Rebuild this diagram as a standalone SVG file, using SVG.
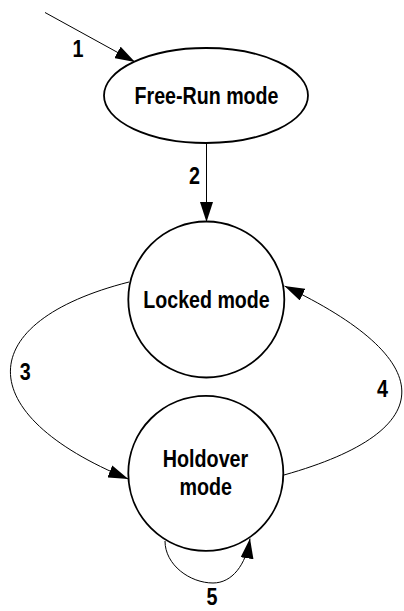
<svg xmlns="http://www.w3.org/2000/svg" width="404" height="611" viewBox="0 0 404 611">
  <style>
    .node { fill: #ffffff; stroke: #000000; stroke-width: 1.8; }
    .edge { fill: none; stroke: #000000; stroke-width: 1; marker-end: url(#arrow); }
    .label { font-family: "Liberation Sans Narrow", "Liberation Sans", Arial, sans-serif; font-weight: bold; font-size: 24px; fill: #000000; text-anchor: middle; }
  </style>
  <defs>
    <marker id="arrow" markerUnits="userSpaceOnUse" markerWidth="20" markerHeight="13" refX="20" refY="6.5" orient="auto" viewBox="0 0 20 13">
      <path d="M0,0 L20,6.5 L0,13 z" fill="#000000"/>
    </marker>
  </defs>

  <g id="connectors">
    <path id="e1" class="edge" d="M45,12.5 L135,62"/>
    <path id="e2" class="edge" d="M206.5,143.5 L206.5,222"/>
    <path id="e3" class="edge" d="M129,282 C-28,322 -30,414 128.3,479"/>
    <path id="e4" class="edge" d="M284,475 C444,430 438,359 284.5,286"/>
    <path id="e5" class="edge" d="M165,541 C165,565 190,583 213,583 C232,583 246,565 250,538.5"/>
    <text class="label" x="78" y="57" textLength="11" lengthAdjust="spacingAndGlyphs">1</text>
    <text class="label" x="194.5" y="184" textLength="11" lengthAdjust="spacingAndGlyphs">2</text>
    <text class="label" x="25.3" y="380" textLength="11" lengthAdjust="spacingAndGlyphs">3</text>
    <text class="label" x="382.5" y="397" textLength="11" lengthAdjust="spacingAndGlyphs">4</text>
    <text class="label" x="212" y="605" textLength="11" lengthAdjust="spacingAndGlyphs">5</text>
  </g>

  <g id="free-run">
    <ellipse class="node" cx="206" cy="95.5" rx="102" ry="47.5"/>
    <text class="label" x="206.5" y="104" textLength="144" lengthAdjust="spacingAndGlyphs">Free-Run mode</text>
  </g>

  <g id="locked">
    <circle class="node" cx="206.3" cy="299.5" r="78"/>
    <text class="label" x="206.5" y="308.3" textLength="126.5" lengthAdjust="spacingAndGlyphs">Locked mode</text>
  </g>

  <g id="holdover">
    <circle class="node" cx="205.8" cy="473.3" r="77.5"/>
    <text class="label" x="205.5" y="466.7" textLength="85.5" lengthAdjust="spacingAndGlyphs">Holdover</text>
    <text class="label" x="205.8" y="495" textLength="52.5" lengthAdjust="spacingAndGlyphs">mode</text>
  </g>
</svg>
